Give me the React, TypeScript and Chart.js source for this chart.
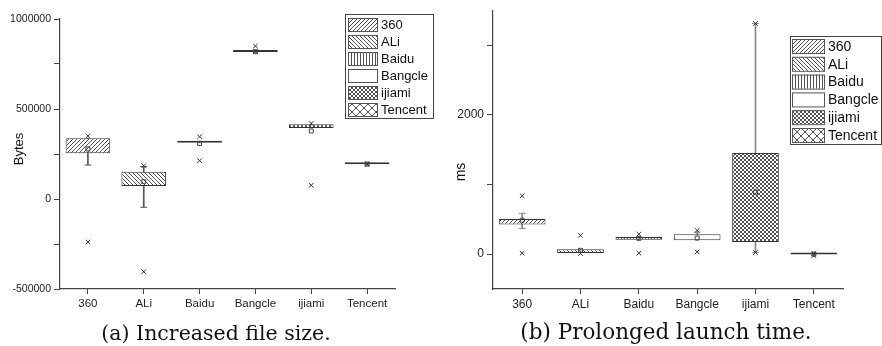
import React, { useEffect, useRef } from 'react';
import { Chart, registerables } from 'chart.js';
Chart.register(...registerables);

const FONT = "'Liberation Sans', Arial, Helvetica, sans-serif";
Chart.defaults.font.family = FONT;

const categories = ['360', 'ALi', 'Baidu', 'Bangcle', 'ijiami', 'Tencent'];
const patternKinds = ['fwd', 'back', 'vertical', 'none', 'dense', 'cross'];

// (a) Increased file size (Bytes)
const sizeQ1 = [254000, 72000, 312000, 816000, 395000, 193000];
const sizeQ3 = [337000, 152000, 322000, 820000, 415000, 196000];
const sizeWhiskerLow = [189000, -46000, 312000, 816000, 395000, 193000];
const sizeWhiskerHigh = [337000, 180000, 322000, 820000, 415000, 196000];
const sizeMean = [278000, 96000, 309000, 818000, 378000, 194000];
const sizeMax = [350000, 185000, 346000, 850000, 420000, 196000];
const sizeMin = [-239000, -404000, 213000, 818000, 76000, 192000];
const sizeTicks = [-500000, -250000, 0, 250000, 500000, 750000, 1000000];
const sizeTickLabels = ['-500000', '', '0', '', '500000', '', '1000000'];

// (b) Prolonged launch time (ms)
const timeQ1 = [425, 18, 207, 199, 174, -5];
const timeQ3 = [505, 71, 245, 284, 1451, 5];
const timeWhiskerLow = [369, 18, 207, 199, 23, -5];
const timeWhiskerHigh = [586, 71, 245, 316, 3310, 5];
const timeMean = [487, 55, 227, 231, 888, 0];
const timeMax = [837, 270, 288, 340, 3310, 10];
const timeMin = [14, 9, 14, 33, 23, -20];
const timeTicks = [0, 1000, 2000, 3000];
const timeTickLabels = ['0', '', '2000', ''];

function makePattern(kind: string, color: string): any {
  if (kind === 'none') return '#ffffff';
  const size = kind === 'cross' ? 8 : kind === 'vertical' ? 3 : kind === 'dense' ? 4 : 4;
  const c = document.createElement('canvas');
  c.width = size;
  c.height = size;
  const g = c.getContext('2d')!;
  g.fillStyle = '#ffffff';
  g.fillRect(0, 0, size, size);
  g.fillStyle = color;
  for (let i = 0; i < size; i++) {
    if (kind === 'fwd') g.fillRect(i, size - 1 - i, 1, 1);
    if (kind === 'back') g.fillRect(i, i, 1, 1);
    if (kind === 'vertical') g.fillRect(0, i, 1, 1);
    if (kind === 'dense' || kind === 'cross') {
      g.fillRect(i, i, 1, 1);
      g.fillRect(i, size - 1 - i, 1, 1);
    }
  }
  const ctx = document.createElement('canvas').getContext('2d')!;
  return ctx.createPattern(c, 'repeat');
}

type Cfg = {
  q1: number[]; q3: number[]; wl: number[]; wh: number[]; mean: number[]; max: number[]; min: number[];
  yMin: number; yMax: number; ticks: number[]; tickLabels: string[]; yTitle: string;
  yWidth: number; padTop: number; padRight: number; xHeight: number;
  yTickFont: number; xTickFont: number; titleFont: number; titleX: number; titleY: number;
  whiskerColor: string;
  legend: { x: number; y: number; w: number; h: number; rowH: number; swX: number; swW: number; swH: number; first: number; font: number };
};

function legendPlugin(cfg: Cfg, patterns: any[]) {
  return {
    id: 'boxLegend',
    afterDraw(chart: any) {
      const ctx = chart.ctx as CanvasRenderingContext2D;
      const L = cfg.legend;
      ctx.save();
      // axis title
      ctx.translate(cfg.titleX, cfg.titleY);
      ctx.rotate(-Math.PI / 2);
      ctx.fillStyle = '#111';
      ctx.font = `${cfg.titleFont}px ${FONT}`;
      ctx.textAlign = 'center';
      ctx.textBaseline = 'middle';
      ctx.fillText(cfg.yTitle, 0, 0);
      ctx.restore();

      ctx.save();
      ctx.fillStyle = '#ffffff';
      ctx.fillRect(L.x, L.y, L.w, L.h);
      ctx.strokeStyle = '#444';
      ctx.lineWidth = 1;
      ctx.strokeRect(L.x + 0.5, L.y + 0.5, L.w, L.h);
      categories.forEach((cat, i) => {
        const sy = L.y + L.first + i * L.rowH;
        ctx.fillStyle = patterns[i];
        ctx.fillRect(L.swX, sy, L.swW, L.swH);
        ctx.strokeStyle = '#555';
        ctx.strokeRect(L.swX + 0.5, sy + 0.5, L.swW, L.swH);
        ctx.fillStyle = '#111';
        ctx.font = `${L.font}px ${FONT}`;
        ctx.textBaseline = 'middle';
        ctx.textAlign = 'left';
        ctx.fillText(cat, L.swX + L.swW + 4, sy + L.swH / 2 + 1);
      });
      ctx.restore();
    },
  };
}

function buildChart(canvas: HTMLCanvasElement, cfg: Cfg) {
  const patterns = patternKinds.map((k) => makePattern(k, '#505050'));
  const capLow = cfg.wl.map((w, i) => (w < cfg.q1[i] ? w : null));
  const capHigh = cfg.wh.map((w, i) => (w > cfg.q3[i] ? w : null));
  const marker = {
    type: 'line' as const,
    showLine: false,
    pointStyle: 'crossRot',
    pointRadius: 3.2,
    borderColor: '#333',
    backgroundColor: '#333',
    borderWidth: 1,
    order: 0,
  };
  return new Chart(canvas, {
    type: 'bar',
    data: {
      labels: categories,
      datasets: [
        { ...marker, label: 'max', data: cfg.max } as any,
        { ...marker, label: 'min', data: cfg.min } as any,
        {
          type: 'line', label: 'mean', data: cfg.mean, showLine: false, pointStyle: 'rect',
          pointRadius: 2.8, borderColor: '#444', backgroundColor: 'rgba(0,0,0,0)', borderWidth: 1, order: 1,
        } as any,
        {
          type: 'bar', label: 'box', data: categories.map((_, i) => [cfg.q1[i], cfg.q3[i]]),
          backgroundColor: patterns, borderColor: '#333', borderWidth: 1, borderSkipped: false,
          barPercentage: 0.8, categoryPercentage: 1, grouped: false, minBarLength: 2, order: 2,
        } as any,
        {
          type: 'line', label: 'capLow', data: capLow, showLine: false, pointStyle: 'line',
          pointRadius: 3.5, borderColor: cfg.whiskerColor, borderWidth: 1, order: 3,
        } as any,
        {
          type: 'line', label: 'capHigh', data: capHigh, showLine: false, pointStyle: 'line',
          pointRadius: 3.5, borderColor: cfg.whiskerColor, borderWidth: 1, order: 3,
        } as any,
        {
          type: 'bar', label: 'whisker', data: categories.map((_, i) => [cfg.wl[i], cfg.wh[i]]),
          backgroundColor: cfg.whiskerColor, borderWidth: 0, barThickness: 1, grouped: false, order: 4,
        } as any,
      ],
    },
    options: {
      responsive: false,
      animation: false,
      events: [],
      layout: { padding: { left: 0, top: cfg.padTop, right: cfg.padRight, bottom: 0 } },
      plugins: { legend: { display: false }, tooltip: { enabled: false }, title: { display: false } },
      scales: {
        x: {
          type: 'category',
          offset: true,
          grid: { drawOnChartArea: false, drawTicks: true, tickLength: 5, color: '#444', offset: false },
          border: { display: true, color: '#444', width: 1.2 },
          ticks: { font: { size: cfg.xTickFont }, color: '#222', padding: 3, maxRotation: 0, autoSkip: false },
          afterFit: (s: any) => { s.height = cfg.xHeight; },
        },
        y: {
          type: 'linear',
          min: cfg.yMin,
          max: cfg.yMax,
          afterBuildTicks: (s: any) => { s.ticks = cfg.ticks.map((v) => ({ value: v })); },
          grid: { drawOnChartArea: false, drawTicks: true, tickLength: 6, color: '#444' },
          border: { display: true, color: '#444', width: 1.2 },
          ticks: {
            font: { size: cfg.yTickFont }, color: '#222', padding: 3, autoSkip: false,
            callback: (v: any) => cfg.tickLabels[cfg.ticks.indexOf(Number(v))] ?? '',
          },
          title: { display: false },
          afterFit: (s: any) => { s.width = cfg.yWidth; },
        },
      },
    } as any,
    plugins: [legendPlugin(cfg, patterns)],
  });
}

const sizeCfg: Cfg = {
  q1: sizeQ1, q3: sizeQ3, wl: sizeWhiskerLow, wh: sizeWhiskerHigh, mean: sizeMean, max: sizeMax, min: sizeMin,
  yMin: -500000, yMax: 1000000, ticks: sizeTicks, tickLabels: sizeTickLabels, yTitle: 'Bytes',
  yWidth: 60, padTop: 19, padRight: 46, xHeight: 57,
  yTickFont: 10.5, xTickFont: 11.5, titleFont: 13, titleX: 19, titleY: 149,
  whiskerColor: '#555',
  legend: { x: 345, y: 14, w: 88, h: 104, rowH: 17, swX: 348, swW: 29, swH: 13, first: 4, font: 13 },
};

const timeCfg: Cfg = {
  q1: timeQ1, q3: timeQ3, wl: timeWhiskerLow, wh: timeWhiskerHigh, mean: timeMean, max: timeMax, min: timeMin,
  yMin: -500, yMax: 3500, ticks: timeTicks, tickLabels: timeTickLabels, yTitle: 'ms',
  yWidth: 52, padTop: 7, padRight: 39, xHeight: 57,
  yTickFont: 12, xTickFont: 12, titleFont: 14, titleX: 20, titleY: 172,
  whiskerColor: '#888',
  legend: { x: 349, y: 36, w: 91, h: 108, rowH: 17.8, swX: 351, swW: 32, swH: 14, first: 3, font: 14 },
};

function BoxChart({ cfg }: { cfg: Cfg }) {
  const ref = useRef<HTMLCanvasElement>(null);
  useEffect(() => {
    const chart = buildChart(ref.current!, cfg);
    return () => chart.destroy();
  }, [cfg]);
  return <canvas ref={ref} width={441} height={346} style={{ display: 'block', width: 441, height: 346 }} />;
}

const captionStyle: React.CSSProperties = {
  position: 'absolute',
  fontFamily: "'DejaVu Serif', 'Liberation Serif', serif",
  color: '#111',
  whiteSpace: 'nowrap',
  transform: 'translate(-50%, -50%)',
  lineHeight: 1,
};

export default function App() {
  return (
    <div style={{ position: 'absolute', left: 0, top: 0, width: 882, height: 346, background: '#fff', overflow: 'hidden' }}>
      <div style={{ position: 'absolute', left: 0, top: 0 }}>
        <BoxChart cfg={sizeCfg} />
      </div>
      <div style={{ position: 'absolute', left: 441, top: 0 }}>
        <BoxChart cfg={timeCfg} />
      </div>
      <div style={{ ...captionStyle, left: 216, top: 333, fontSize: 20.5 }}>(a) Increased file size.</div>
      <div style={{ ...captionStyle, left: 666, top: 332, fontSize: 21.5 }}>(b) Prolonged launch time.</div>
    </div>
  );
}
